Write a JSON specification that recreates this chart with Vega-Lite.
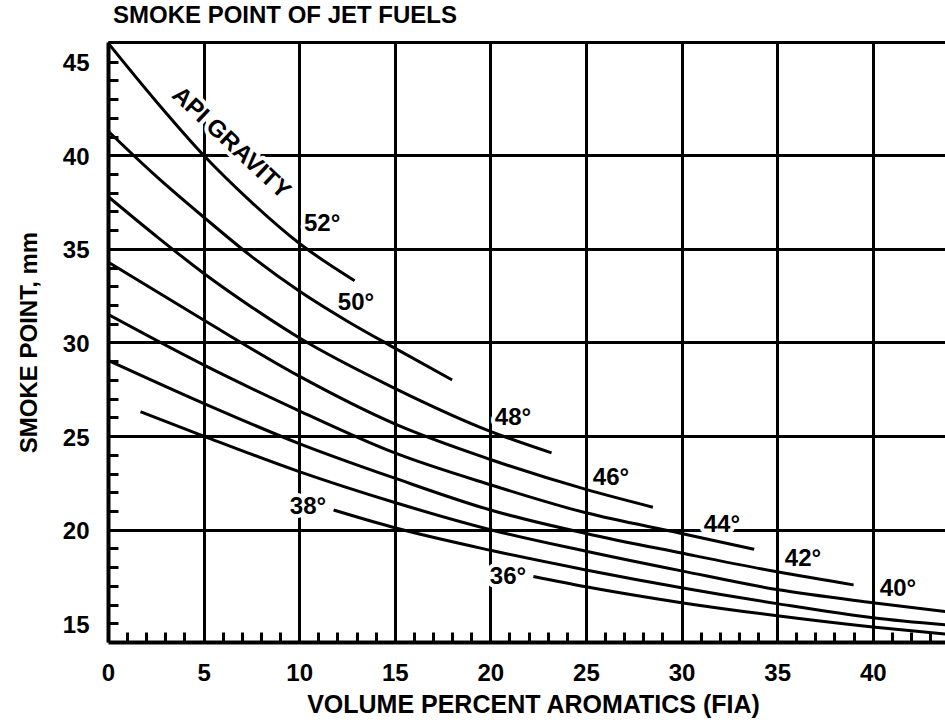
{
  "$schema": "https://vega.github.io/schema/vega-lite/v6.json",
  "autosize": "none",
  "padding": {"left": 108, "top": 42, "right": 0, "bottom": 80},
  "width": 837,
  "height": 600,
  "background": "white",
  "view": {"stroke": null},
  "title": {
    "text": "SMOKE POINT OF JET FUELS",
    "anchor": "start",
    "frame": "group",
    "font": "Liberation Sans",
    "fontSize": 24,
    "fontWeight": "bold",
    "color": "black",
    "baseline": "alphabetic",
    "offset": 15,
    "dx": 5,
    "dy": 30
  },
  "datasets": {
    "curves": [
      {"api": "52", "aromatics": 0, "smoke": 46.0},
      {"api": "52", "aromatics": 2.5, "smoke": 42.9},
      {"api": "52", "aromatics": 5, "smoke": 40.0},
      {"api": "52", "aromatics": 7.5, "smoke": 37.5},
      {"api": "52", "aromatics": 10, "smoke": 35.3},
      {"api": "52", "aromatics": 12.9, "smoke": 33.3},
      {"api": "50", "aromatics": 0, "smoke": 41.3},
      {"api": "50", "aromatics": 2.5, "smoke": 38.9},
      {"api": "50", "aromatics": 5, "smoke": 36.7},
      {"api": "50", "aromatics": 7.5, "smoke": 34.6},
      {"api": "50", "aromatics": 10, "smoke": 32.75},
      {"api": "50", "aromatics": 12.5, "smoke": 31.15},
      {"api": "50", "aromatics": 15, "smoke": 29.7},
      {"api": "50", "aromatics": 18, "smoke": 28.0},
      {"api": "48", "aromatics": 0, "smoke": 37.8},
      {"api": "48", "aromatics": 2.5, "smoke": 35.7},
      {"api": "48", "aromatics": 5, "smoke": 33.7},
      {"api": "48", "aromatics": 7.5, "smoke": 31.9},
      {"api": "48", "aromatics": 10, "smoke": 30.25},
      {"api": "48", "aromatics": 15, "smoke": 27.55},
      {"api": "48", "aromatics": 20, "smoke": 25.25},
      {"api": "48", "aromatics": 23.2, "smoke": 24.1},
      {"api": "46", "aromatics": 0, "smoke": 34.3},
      {"api": "46", "aromatics": 5, "smoke": 31.2},
      {"api": "46", "aromatics": 10, "smoke": 28.2},
      {"api": "46", "aromatics": 15, "smoke": 25.65},
      {"api": "46", "aromatics": 20, "smoke": 23.75},
      {"api": "46", "aromatics": 25, "smoke": 22.15},
      {"api": "46", "aromatics": 28.5, "smoke": 21.2},
      {"api": "44", "aromatics": 0, "smoke": 31.5},
      {"api": "44", "aromatics": 5, "smoke": 28.8},
      {"api": "44", "aromatics": 10, "smoke": 26.35},
      {"api": "44", "aromatics": 15, "smoke": 24.1},
      {"api": "44", "aromatics": 20, "smoke": 22.4},
      {"api": "44", "aromatics": 25, "smoke": 20.9},
      {"api": "44", "aromatics": 30, "smoke": 19.8},
      {"api": "44", "aromatics": 33.8, "smoke": 18.95},
      {"api": "42", "aromatics": 0, "smoke": 29.05},
      {"api": "42", "aromatics": 5, "smoke": 26.75},
      {"api": "42", "aromatics": 10, "smoke": 24.6},
      {"api": "42", "aromatics": 15, "smoke": 22.75},
      {"api": "42", "aromatics": 20, "smoke": 21.05},
      {"api": "42", "aromatics": 25, "smoke": 19.8},
      {"api": "42", "aromatics": 30, "smoke": 18.75},
      {"api": "42", "aromatics": 35, "smoke": 17.75},
      {"api": "42", "aromatics": 39, "smoke": 17.05},
      {"api": "40", "aromatics": 1.7, "smoke": 26.3},
      {"api": "40", "aromatics": 5, "smoke": 25.0},
      {"api": "40", "aromatics": 10, "smoke": 23.1},
      {"api": "40", "aromatics": 15, "smoke": 21.45},
      {"api": "40", "aromatics": 20, "smoke": 20.0},
      {"api": "40", "aromatics": 25, "smoke": 18.85},
      {"api": "40", "aromatics": 30, "smoke": 17.8},
      {"api": "40", "aromatics": 35, "smoke": 16.8},
      {"api": "40", "aromatics": 40, "smoke": 16.1},
      {"api": "40", "aromatics": 44, "smoke": 15.6},
      {"api": "38", "aromatics": 11.8, "smoke": 21.05},
      {"api": "38", "aromatics": 15, "smoke": 20.1},
      {"api": "38", "aromatics": 20, "smoke": 18.9},
      {"api": "38", "aromatics": 25, "smoke": 17.85},
      {"api": "38", "aromatics": 30, "smoke": 16.9},
      {"api": "38", "aromatics": 35, "smoke": 16.05},
      {"api": "38", "aromatics": 40, "smoke": 15.3},
      {"api": "38", "aromatics": 44, "smoke": 14.9},
      {"api": "36", "aromatics": 22.25, "smoke": 17.5},
      {"api": "36", "aromatics": 25, "smoke": 16.95},
      {"api": "36", "aromatics": 30, "smoke": 16.1},
      {"api": "36", "aromatics": 35, "smoke": 15.4},
      {"api": "36", "aromatics": 40, "smoke": 14.8},
      {"api": "36", "aromatics": 44, "smoke": 14.4}
    ],
    "labels": [
      {"label": "52°", "aromatics": 11.2, "smoke": 36.35},
      {"label": "50°", "aromatics": 12.97, "smoke": 32.13},
      {"label": "48°", "aromatics": 21.18, "smoke": 25.96},
      {"label": "46°", "aromatics": 26.31, "smoke": 22.76},
      {"label": "44°", "aromatics": 32.11, "smoke": 20.25},
      {"label": "42°", "aromatics": 36.35, "smoke": 18.43},
      {"label": "40°", "aromatics": 41.32, "smoke": 16.83},
      {"label": "38°", "aromatics": 10.46, "smoke": 21.21},
      {"label": "36°", "aromatics": 20.92, "smoke": 17.47}
    ],
    "curvelabel": [
      {"label": "API GRAVITY", "aromatics": 6.43, "smoke": 40.65}
    ]
  },
  "encoding": {
    "x": {
      "field": "aromatics",
      "type": "quantitative",
      "scale": {"domain": [0, 43.78], "nice": false, "zero": false},
      "axis": {
        "title": "VOLUME PERCENT AROMATICS (FIA)",
        "titleFont": "Liberation Sans",
        "titleFontSize": 25,
        "titleFontWeight": "bold",
        "titleColor": "black",
        "titleX": 425,
        "titleY": 70,
        "titleBaseline": "alphabetic",
        "titleAnchor": "middle",
        "values": [0,1,2,3,4,5,6,7,8,9,10,11,12,13,14,15,16,17,18,19,20,21,22,23,24,25,26,27,28,29,30,31,32,33,34,35,36,37,38,39,40,41,42,43],
        "labelExpr": "datum.value % 5 === 0 ? datum.label : ''",
        "labelOverlap": false,
        "labelFlush": false,
        "labelFont": "Liberation Sans",
        "labelFontSize": 24,
        "labelFontWeight": "bold",
        "labelColor": "black",
        "labelPadding": 29,
        "tickSize": -10,
        "tickWidth": 3,
        "tickColor": "black",
        "domainColor": "black",
        "domainWidth": 4,
        "grid": true,
        "gridColor": "black",
        "gridWidth": 3,
        "gridOpacity": {"condition": {"test": "datum.value % 5 === 0 && datum.value > 0", "value": 1}, "value": 0}
      }
    },
    "y": {
      "field": "smoke",
      "type": "quantitative",
      "scale": {"domain": [14, 46.05], "nice": false, "zero": false},
      "axis": {
        "title": "SMOKE POINT, mm",
        "titleFont": "Liberation Sans",
        "titleFontSize": 24,
        "titleFontWeight": "bold",
        "titleColor": "black",
        "titleX": -72,
        "titleY": 300,
        "titleAngle": -90,
        "titleBaseline": "alphabetic",
        "titleAnchor": "middle",
        "values": [15,16,17,18,19,20,21,22,23,24,25,26,27,28,29,30,31,32,33,34,35,36,37,38,39,40,41,42,43,44,45,46.05],
        "labelExpr": "datum.value % 5 === 0 ? datum.label : ''",
        "labelOverlap": false,
        "labelFlush": false,
        "labelFont": "Liberation Sans",
        "labelFontSize": 24,
        "labelFontWeight": "bold",
        "labelColor": "black",
        "labelPadding": 29,
        "labelOffset": 2,
        "tickSize": -10,
        "tickWidth": 3,
        "tickColor": "black",
        "domainColor": "black",
        "domainWidth": 4,
        "grid": true,
        "gridColor": "black",
        "gridWidth": 3,
        "gridOpacity": {"condition": {"test": "(datum.value % 5 === 0 && datum.value >= 20 && datum.value <= 40) || datum.value > 46", "value": 1}, "value": 0}
      }
    }
  },
  "layer": [
    {
      "data": {"name": "labels"},
      "mark": {"type": "text", "font": "Liberation Sans", "fontSize": 24, "fontWeight": "bold", "fill": "white", "stroke": "white", "strokeWidth": 8, "strokeJoin": "round", "align": "center", "baseline": "middle"},
      "encoding": {"text": {"field": "label"}}
    },
    {
      "data": {"name": "curvelabel"},
      "mark": {"type": "text", "font": "Liberation Sans", "fontSize": 24, "fontWeight": "bold", "fill": "white", "stroke": "white", "strokeWidth": 8, "strokeJoin": "round", "align": "center", "baseline": "middle", "angle": 43},
      "encoding": {"text": {"field": "label"}}
    },
    {
      "data": {"name": "curves"},
      "mark": {"type": "line", "color": "black", "strokeWidth": 3, "interpolate": "monotone", "clip": true},
      "encoding": {"detail": {"field": "api"}}
    },
    {
      "data": {"name": "labels"},
      "mark": {"type": "text", "font": "Liberation Sans", "fontSize": 24, "fontWeight": "bold", "color": "black", "align": "center", "baseline": "middle"},
      "encoding": {"text": {"field": "label"}}
    },
    {
      "data": {"name": "curvelabel"},
      "mark": {"type": "text", "font": "Liberation Sans", "fontSize": 24, "fontWeight": "bold", "color": "black", "align": "center", "baseline": "middle", "angle": 43},
      "encoding": {"text": {"field": "label"}}
    }
  ]
}
